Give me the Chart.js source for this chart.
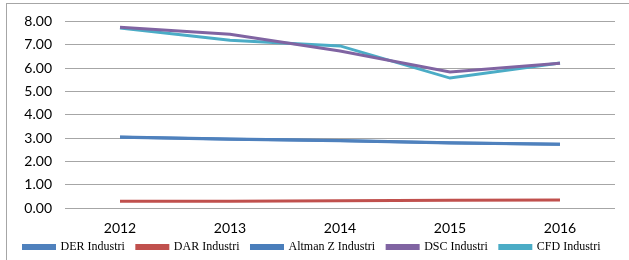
<!DOCTYPE html>
<html>
<head>
<meta charset="utf-8">
<script src="https://cdn.jsdelivr.net/npm/chart.js@4/dist/chart.umd.min.js"></script>
<style>
  html, body { margin: 0; padding: 0; background: #fff; }
  #frame {
    position: absolute; left: 6px; top: 3px; width: 640px; height: 270px;
    border: 1px solid #a6a6a6; box-sizing: border-box;
  }
  #wrap { position: absolute; left: 0; top: 0; width: 629px; height: 260px; }
</style>
</head>
<body>
<div id="frame"></div>
<div id="wrap"><canvas id="myChart" width="629" height="260"></canvas></div>
<script>
//Data
const years = ["2012", "2013", "2014", "2015", "2016"];
const derIndustri = [3.03, 2.95, 2.88, 2.79, 2.73];
const darIndustri = [0.29, 0.29, 0.31, 0.33, 0.34];
const altmanIndustri = [3.04, 2.96, 2.89, 2.80, 2.73];
const dscIndustri = [7.75, 7.45, 6.73, 5.83, 6.21];
const cfdIndustri = [7.72, 7.19, 6.95, 5.57, 6.22];
const yTicks = [0, 1, 2, 3, 4, 5, 6, 7, 8];

const ctx = document.getElementById("myChart").getContext("2d");

function line(label, data, color) {
  return {
    label: label,
    data: data,
    borderColor: color,
    backgroundColor: color,
    borderWidth: 3,
    pointRadius: 0,
    tension: 0,
    fill: false,
  };
}

const chartData = {
  labels: years,
  datasets: [
    line("DER Industri", derIndustri, "#4F81BD"),
    line("DAR Industri", darIndustri, "#C0504D"),
    line("Altman Z Industri", altmanIndustri, "#4A7EBB"),
    line("DSC Industri", dscIndustri, "#8064A2"),
    line("CFD Industri", cfdIndustri, "#4BACC6"),
  ],
};

const config = {
  type: "line",
  data: chartData,
  options: {
    responsive: false,
    animation: false,
    layout: { padding: { left: 4, right: 0, top: 9, bottom: -3 } },
    plugins: {
      legend: {
        position: "bottom",
        labels: {
          boxWidth: 31,
          boxHeight: 3,
          padding: 3,
          color: "#000",
          font: { family: "Liberation Serif", size: 12 },
          // a little trailing space keeps the items apart like the original
          generateLabels: (chart) =>
            Chart.defaults.plugins.legend.labels
              .generateLabels(chart)
              .map((l) => ({ ...l, text: l.text + "   " })),
        },
      },
      tooltip: { enabled: false },
    },
    scales: {
      x: {
        offset: true,
        grid: { display: false, drawTicks: false },
        border: { display: false },
        afterFit: (axis) => { axis.height = 30; },
        ticks: { color: "#000", font: { family: "Lato", size: 14 }, padding: 12 },
      },
      y: {
        min: 0,
        max: 8,
        afterBuildTicks: (axis) => { axis.ticks = yTicks.map((v) => ({ value: v })); },
        afterFit: (axis) => { axis.width = 61; },
        grid: { color: "#a6a6a6", lineWidth: 1, drawTicks: false },
        border: { display: false },
        ticks: {
          autoSkip: false,
          color: "#000",
          font: { family: "Lato", size: 14 },
          padding: 13,
          callback: (v) => v.toFixed(2),
        },
      },
      // empty axis on the right, only to keep the plot off the right edge
      yRight: {
        position: "right",
        grid: { display: false },
        border: { display: false },
        ticks: { display: false },
        afterFit: (axis) => { axis.width = 14; },
      },
    },
  },
};

const myChart = new Chart(ctx, config);
</script>
</body>
</html>
